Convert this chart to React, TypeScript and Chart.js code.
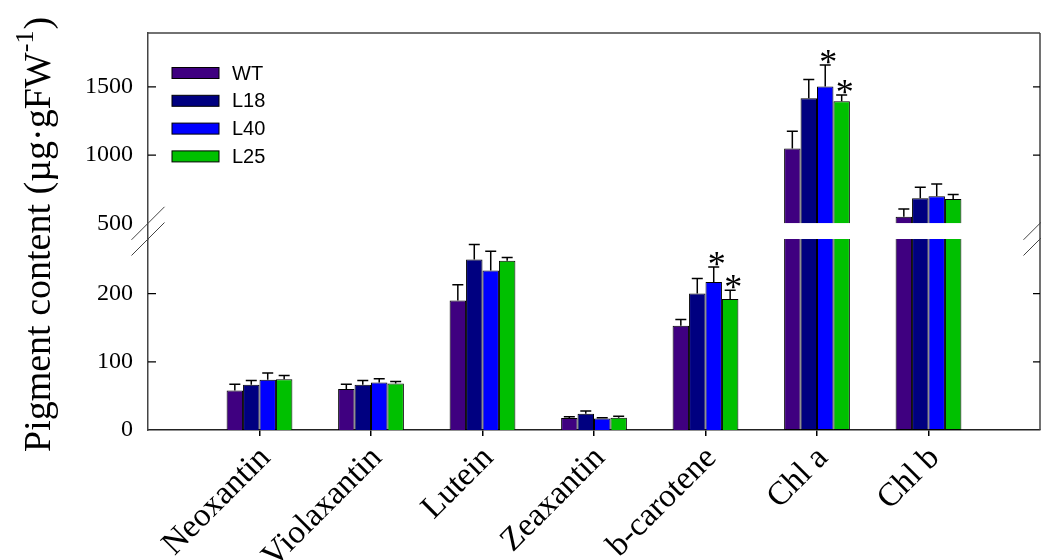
import { useEffect, useRef } from 'react';
import { Chart, registerables } from 'chart.js';

Chart.register(...registerables);

// ---- data ----
const categories = ['Neoxantin', 'Violaxantin', 'Lutein', 'Zeaxantin', 'b-carotene', 'Chl a', 'Chl b'];
const seriesNames = ['WT', 'L18', 'L40', 'L25'];
const wtValues = [58, 60, 190, 17.5, 153, 1049, 549];
const l18Values = [66.5, 66.5, 250, 24, 200, 1417, 684];
const l40Values = [73.5, 69.5, 234, 17, 217, 1502, 698];
const l25Values = [74.5, 68, 248, 18, 192, 1395, 679];
const wtErrors = [9, 7, 23, 2, 9, 125, 56];
const l18Errors = [6, 6, 22, 4, 22, 137, 81];
const l40Errors = [10, 5.5, 28, 1, 22, 158, 91];
const l25Errors = [5.5, 3, 5, 2, 13, 46, 32];
const wtSig = [false, false, false, false, false, false, false];
const l18Sig = [false, false, false, false, false, false, false];
const l40Sig = [false, false, false, false, true, true, false];
const l25Sig = [false, false, false, false, true, true, false];
const lowerTicks = [0, 100, 200];
const upperTicks = [500, 1000, 1500];
const LOWER_MAX = 280;
const UPPER_BASE = 500;
const UPPER_MIN = 385;
const UPPER_MAX = 1895;
const colors = ['#3f0080', '#000080', '#0000ff', '#00c000'];

const seriesValues = [wtValues, l18Values, l40Values, l25Values];
const seriesErrors = [wtErrors, l18Errors, l40Errors, l25Errors];
const seriesSig = [wtSig, l18Sig, l40Sig, l25Sig];

const paddedLabels = ['', ...categories, ''];

const FRAME = '#444';

const decorPlugin = {
  id: 'decor',
  afterDraw(chart: any) {
    const ctx = chart.ctx as CanvasRenderingContext2D;
    const { left, right, top, bottom } = chart.chartArea;
    const yLow = chart.scales.yLow;
    const yHigh = chart.scales.yHigh;
    const xScale = chart.scales.x;
    ctx.save();

    // error bars + asterisks
    seriesValues.forEach((vals, si) => {
      const meta = chart.getDatasetMeta(si);
      vals.forEach((v, j) => {
        const el = meta.data[j + 1];
        if (!el) return;
        const x = el.x;
        const sc = v > LOWER_MAX ? yHigh : yLow;
        const yTop = sc.getPixelForValue(v);
        const yErr = sc.getPixelForValue(v + seriesErrors[si][j]);
        ctx.strokeStyle = '#000';
        ctx.lineWidth = 1.5;
        ctx.beginPath();
        ctx.moveTo(x, yTop);
        ctx.lineTo(x, yErr);
        ctx.moveTo(x - 5.5, yErr);
        ctx.lineTo(x + 5.5, yErr);
        ctx.stroke();
        if (seriesSig[si][j]) {
          ctx.fillStyle = '#000';
          ctx.font = "36px 'Liberation Serif'";
          ctx.textAlign = 'center';
          ctx.textBaseline = 'alphabetic';
          ctx.fillText('*', x + 3, yErr + 9);
        }
      });
    });

    // frame: top + right spine
    ctx.strokeStyle = FRAME;
    ctx.lineWidth = 1.5;
    ctx.beginPath();
    ctx.moveTo(left, top);
    ctx.lineTo(right, top);
    ctx.moveTo(right, top);
    ctx.lineTo(right, bottom);
    ctx.stroke();

    // inward ticks
    ctx.strokeStyle = '#000';
    ctx.lineWidth = 1.2;
    const tickYs: number[] = [];
    lowerTicks.forEach((t) => { if (t > 0) tickYs.push(yLow.getPixelForValue(t)); });
    upperTicks.forEach((t) => { if (t > UPPER_BASE) tickYs.push(yHigh.getPixelForValue(t)); });
    ctx.beginPath();
    tickYs.forEach((y) => {
      ctx.moveTo(left, y);
      ctx.lineTo(left + 8, y);
      ctx.moveTo(right, y);
      ctx.lineTo(right - 7, y);
    });
    ctx.stroke();

    // break marks
    const yb1 = yHigh.getPixelForValue(UPPER_BASE);
    const yb2 = yLow.top;
    ctx.strokeStyle = FRAME;
    ctx.lineWidth = 1;
    ctx.beginPath();
    [left, right].forEach((x0) => {
      [yb1, yb2].forEach((yb) => {
        ctx.moveTo(x0 - 16.5, yb + 16.5);
        ctx.lineTo(x0 + 16.5, yb - 16.5);
      });
    });
    ctx.stroke();

    // legend
    seriesNames.forEach((name, i) => {
      const cy = top + 40 + i * 27.8;
      ctx.fillStyle = colors[i];
      ctx.fillRect(left + 24, cy - 5.5, 47, 11);
      ctx.strokeStyle = '#000';
      ctx.lineWidth = 1;
      ctx.strokeRect(left + 24, cy - 5.5, 47, 11);
      ctx.fillStyle = '#000';
      ctx.font = "20px 'Liberation Sans'";
      ctx.textAlign = 'left';
      ctx.textBaseline = 'middle';
      ctx.fillText(name, left + 84, cy + 1);
    });

    // x labels
    ctx.fillStyle = '#000';
    ctx.font = "33px 'Liberation Serif'";
    categories.forEach((c, i) => {
      const x = xScale.getPixelForValue(i + 1);
      ctx.save();
      ctx.translate(x + 6, bottom + 23);
      ctx.rotate(-Math.PI / 4);
      ctx.textAlign = 'right';
      ctx.textBaseline = 'middle';
      ctx.fillText(c, 0, 0);
      ctx.restore();
    });

    // y title
    ctx.save();
    ctx.translate(50, 452);
    ctx.rotate(-Math.PI / 2);
    ctx.textAlign = 'left';
    ctx.textBaseline = 'alphabetic';
    ctx.font = "38px 'Liberation Serif'";
    const main = 'Pigment content (µg·gFW';
    ctx.fillText(main, 0, 0);
    let w = ctx.measureText(main).width;
    ctx.font = "26px 'Liberation Serif'";
    ctx.fillText('-1', w, -17);
    w += ctx.measureText('-1').width + 1;
    ctx.font = "38px 'Liberation Serif'";
    ctx.fillText(')', w, 0);
    ctx.restore();

    ctx.restore();
  },
};

export default function App() {
  const canvasRef = useRef<HTMLCanvasElement | null>(null);

  useEffect(() => {
    const canvas = canvasRef.current;
    if (!canvas) return;

    const lowerSets = seriesValues.map((vals, si) => ({
      label: seriesNames[si],
      data: [null, ...vals.map((v) => Math.min(v, LOWER_MAX)), null],
      yAxisID: 'yLow',
      stack: seriesNames[si],
      backgroundColor: colors[si],
      borderColor: '#000',
      borderWidth: 1,
      borderSkipped: (c: any) => {
        const v = vals[c.dataIndex - 1];
        return v != null && v > LOWER_MAX ? 'end' : 'start';
      },
      categoryPercentage: 0.59,
      barPercentage: 1.0,
    }));
    const upperSets = seriesValues.map((vals, si) => ({
      label: seriesNames[si] + ' (upper)',
      data: [null, ...vals.map((v) => (v > LOWER_MAX ? [UPPER_BASE, v] : null)), null],
      yAxisID: 'yHigh',
      stack: seriesNames[si],
      backgroundColor: colors[si],
      borderColor: '#000',
      borderWidth: 1,
      borderSkipped: 'start',
      categoryPercentage: 0.59,
      barPercentage: 1.0,
    }));

    const yTickFont = { family: 'Liberation Serif', size: 24 };
    const plainLabel = (v: any) => String(v);

    const chart = new Chart(canvas, {
      type: 'bar',
      data: {
        labels: paddedLabels,
        datasets: [...lowerSets, ...upperSets] as any,
      },
      options: {
        responsive: false,
        animation: false,
        devicePixelRatio: 1,
        layout: { padding: { top: 33, right: 1, left: 0, bottom: 0 } },
        plugins: {
          legend: { display: false },
          tooltip: { enabled: false },
        },
        scales: {
          x: {
            type: 'category',
            offset: false,
            grid: {
              offset: false,
              drawOnChartArea: false,
              drawTicks: true,
              tickLength: 6,
              lineWidth: 1.5,
              color: (c: any) => (c.index === 0 || c.index === paddedLabels.length - 1 ? 'rgba(0,0,0,0)' : '#000'),
            },
            border: { display: true, color: '#222', width: 1.5 },
            ticks: { display: false, autoSkip: false },
            afterFit: (s: any) => { s.height = 130; },
          },
          yLow: {
            type: 'linear',
            position: 'left',
            stack: 'yaxes',
            stackWeight: 191,
            stacked: false,
            min: 0,
            max: LOWER_MAX,
            afterBuildTicks: (s: any) => { s.ticks = lowerTicks.map((v) => ({ value: v })); },
            grid: { display: false, drawTicks: false },
            border: { display: true, color: FRAME, width: 1.5 },
            ticks: { font: yTickFont, color: '#000', padding: 15, callback: plainLabel },
            afterFit: (s: any) => { s.width = 148; },
          },
          yHigh: {
            type: 'linear',
            position: 'left',
            stack: 'yaxes',
            stackWeight: 206,
            stacked: false,
            min: UPPER_MIN,
            max: UPPER_MAX,
            afterBuildTicks: (s: any) => { s.ticks = upperTicks.map((v) => ({ value: v })); },
            grid: { display: false, drawTicks: false },
            border: { display: true, color: FRAME, width: 1.5 },
            ticks: { font: yTickFont, color: '#000', padding: 15, callback: plainLabel },
            afterFit: (s: any) => { s.width = 148; },
          },
        } as any,
      },
      plugins: [decorPlugin],
    });

    return () => chart.destroy();
  }, []);

  return (
    <div style={{ position: 'absolute', left: 0, top: 0, width: 1041, height: 560, background: '#fff' }}>
      <canvas ref={canvasRef} width={1041} height={560} style={{ width: 1041, height: 560, display: 'block' }} />
    </div>
  );
}
